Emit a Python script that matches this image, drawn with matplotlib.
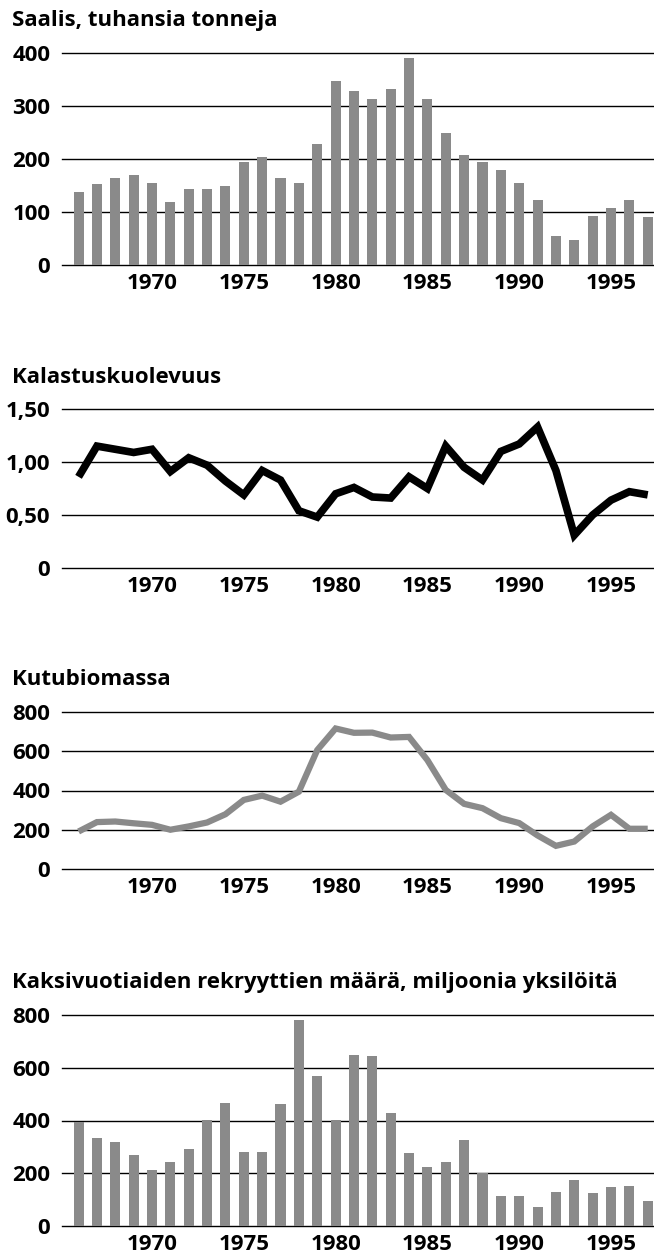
import matplotlib
matplotlib.use('Agg')
import matplotlib.pyplot as plt

plt.rcParams['font.family'] = ['Open Sans', 'DejaVu Sans']

years = list(range(1966, 1998))

# Saalis, tuhansia tonneja
catch = [137, 152, 164, 169, 154, 118, 144, 144, 149, 195, 203, 164, 154, 228,
         348, 329, 314, 332, 390, 313, 250, 207, 195, 180, 154, 123, 55, 48,
         93, 108, 123, 90]

# Kalastuskuolevuus
mortality = [0.86, 1.15, 1.12, 1.09, 1.12, 0.91, 1.04, 0.97, 0.82, 0.69, 0.92,
             0.83, 0.54, 0.48, 0.70, 0.76, 0.67, 0.66, 0.86, 0.75, 1.15, 0.95,
             0.83, 1.10, 1.17, 1.33, 0.92, 0.31, 0.50, 0.64, 0.72, 0.69]

# Kutubiomassa
biomass = [191, 239, 242, 233, 225, 200, 217, 237, 279, 352, 374, 343, 394, 606,
           716, 694, 695, 670, 673, 555, 403, 332, 310, 259, 234, 171, 118, 140,
           217, 276, 205, 205]

# Kaksivuotiaiden rekryyttien määrä
recruits = [394, 332, 320, 270, 213, 242, 293, 402, 467, 281, 281, 462, 782, 567,
            402, 650, 645, 429, 275, 225, 242, 326, 202, 114, 114, 73, 129, 174,
            124, 146, 151, 96]

xticks = [1970, 1975, 1980, 1985, 1990, 1995]

W, H = 654, 1255
fig = plt.figure(figsize=(W / 100, H / 100), dpi=100)

GRAY = '#8a8a8a'
FS = 16
X_LEFT_PX = 62
X0_PX, PX_PER_YEAR = 152, 18.36


def make_axes(y_top, y_zero, ymax, yticks, ylabels, title, title_y):
    ax = fig.add_axes([X_LEFT_PX / W, 1 - y_zero / H,
                       (W - X_LEFT_PX) / W, (y_zero - y_top) / H])
    ax.set_xlim(1970 - (X0_PX - X_LEFT_PX) / PX_PER_YEAR,
                1970 + (W - X0_PX) / PX_PER_YEAR)
    ax.set_ylim(0, ymax)
    for s in ax.spines.values():
        s.set_visible(False)
    for v in yticks:
        ax.axhline(v, color='black', lw=1.0, clip_on=False, zorder=1)
    ax.set_yticks(yticks)
    ax.set_yticklabels(ylabels, fontsize=FS, fontweight='bold')
    ax.set_xticks(xticks)
    ax.set_xticklabels([str(x) for x in xticks], fontsize=FS, fontweight='bold')
    ax.tick_params(length=0)
    ax.tick_params(axis='y', pad=8.5)
    ax.tick_params(axis='x', pad=5.5)
    fig.text(12 / W, 1 - title_y / H, title, fontsize=FS, fontweight='bold',
             va='baseline', ha='left')
    return ax


# Saalis
ax1 = make_axes(53, 265, 400, [0, 100, 200, 300, 400],
                ['0', '100', '200', '300', '400'],
                'Saalis, tuhansia tonneja', 26)
ax1.bar(years, catch, width=0.55, color=GRAY, zorder=2)

# Kalastuskuolevuus
ax2 = make_axes(409, 568, 1.5, [0, 0.5, 1.0, 1.5],
                ['0', '0,50', '1,00', '1,50'],
                'Kalastuskuolevuus', 383)
ax2.plot(years, mortality, color='black', lw=5.5, zorder=3,
         solid_joinstyle='miter', solid_capstyle='butt')

# Kutubiomassa
ax3 = make_axes(712, 869, 800, [0, 200, 400, 600, 800],
                ['0', '200', '400', '600', '800'],
                'Kutubiomassa', 685)
ax3.plot(years, biomass, color=GRAY, lw=4.5, zorder=3,
         solid_joinstyle='miter', solid_capstyle='butt')

# Rekryytit
ax4 = make_axes(1015, 1226, 800, [0, 200, 400, 600, 800],
                ['0', '200', '400', '600', '800'],
                'Kaksivuotiaiden rekryyttien määrä, miljoonia yksilöitä', 988)
ax4.bar(years, recruits, width=0.55, color=GRAY, zorder=2)

fig.savefig('out.png', dpi=100)
